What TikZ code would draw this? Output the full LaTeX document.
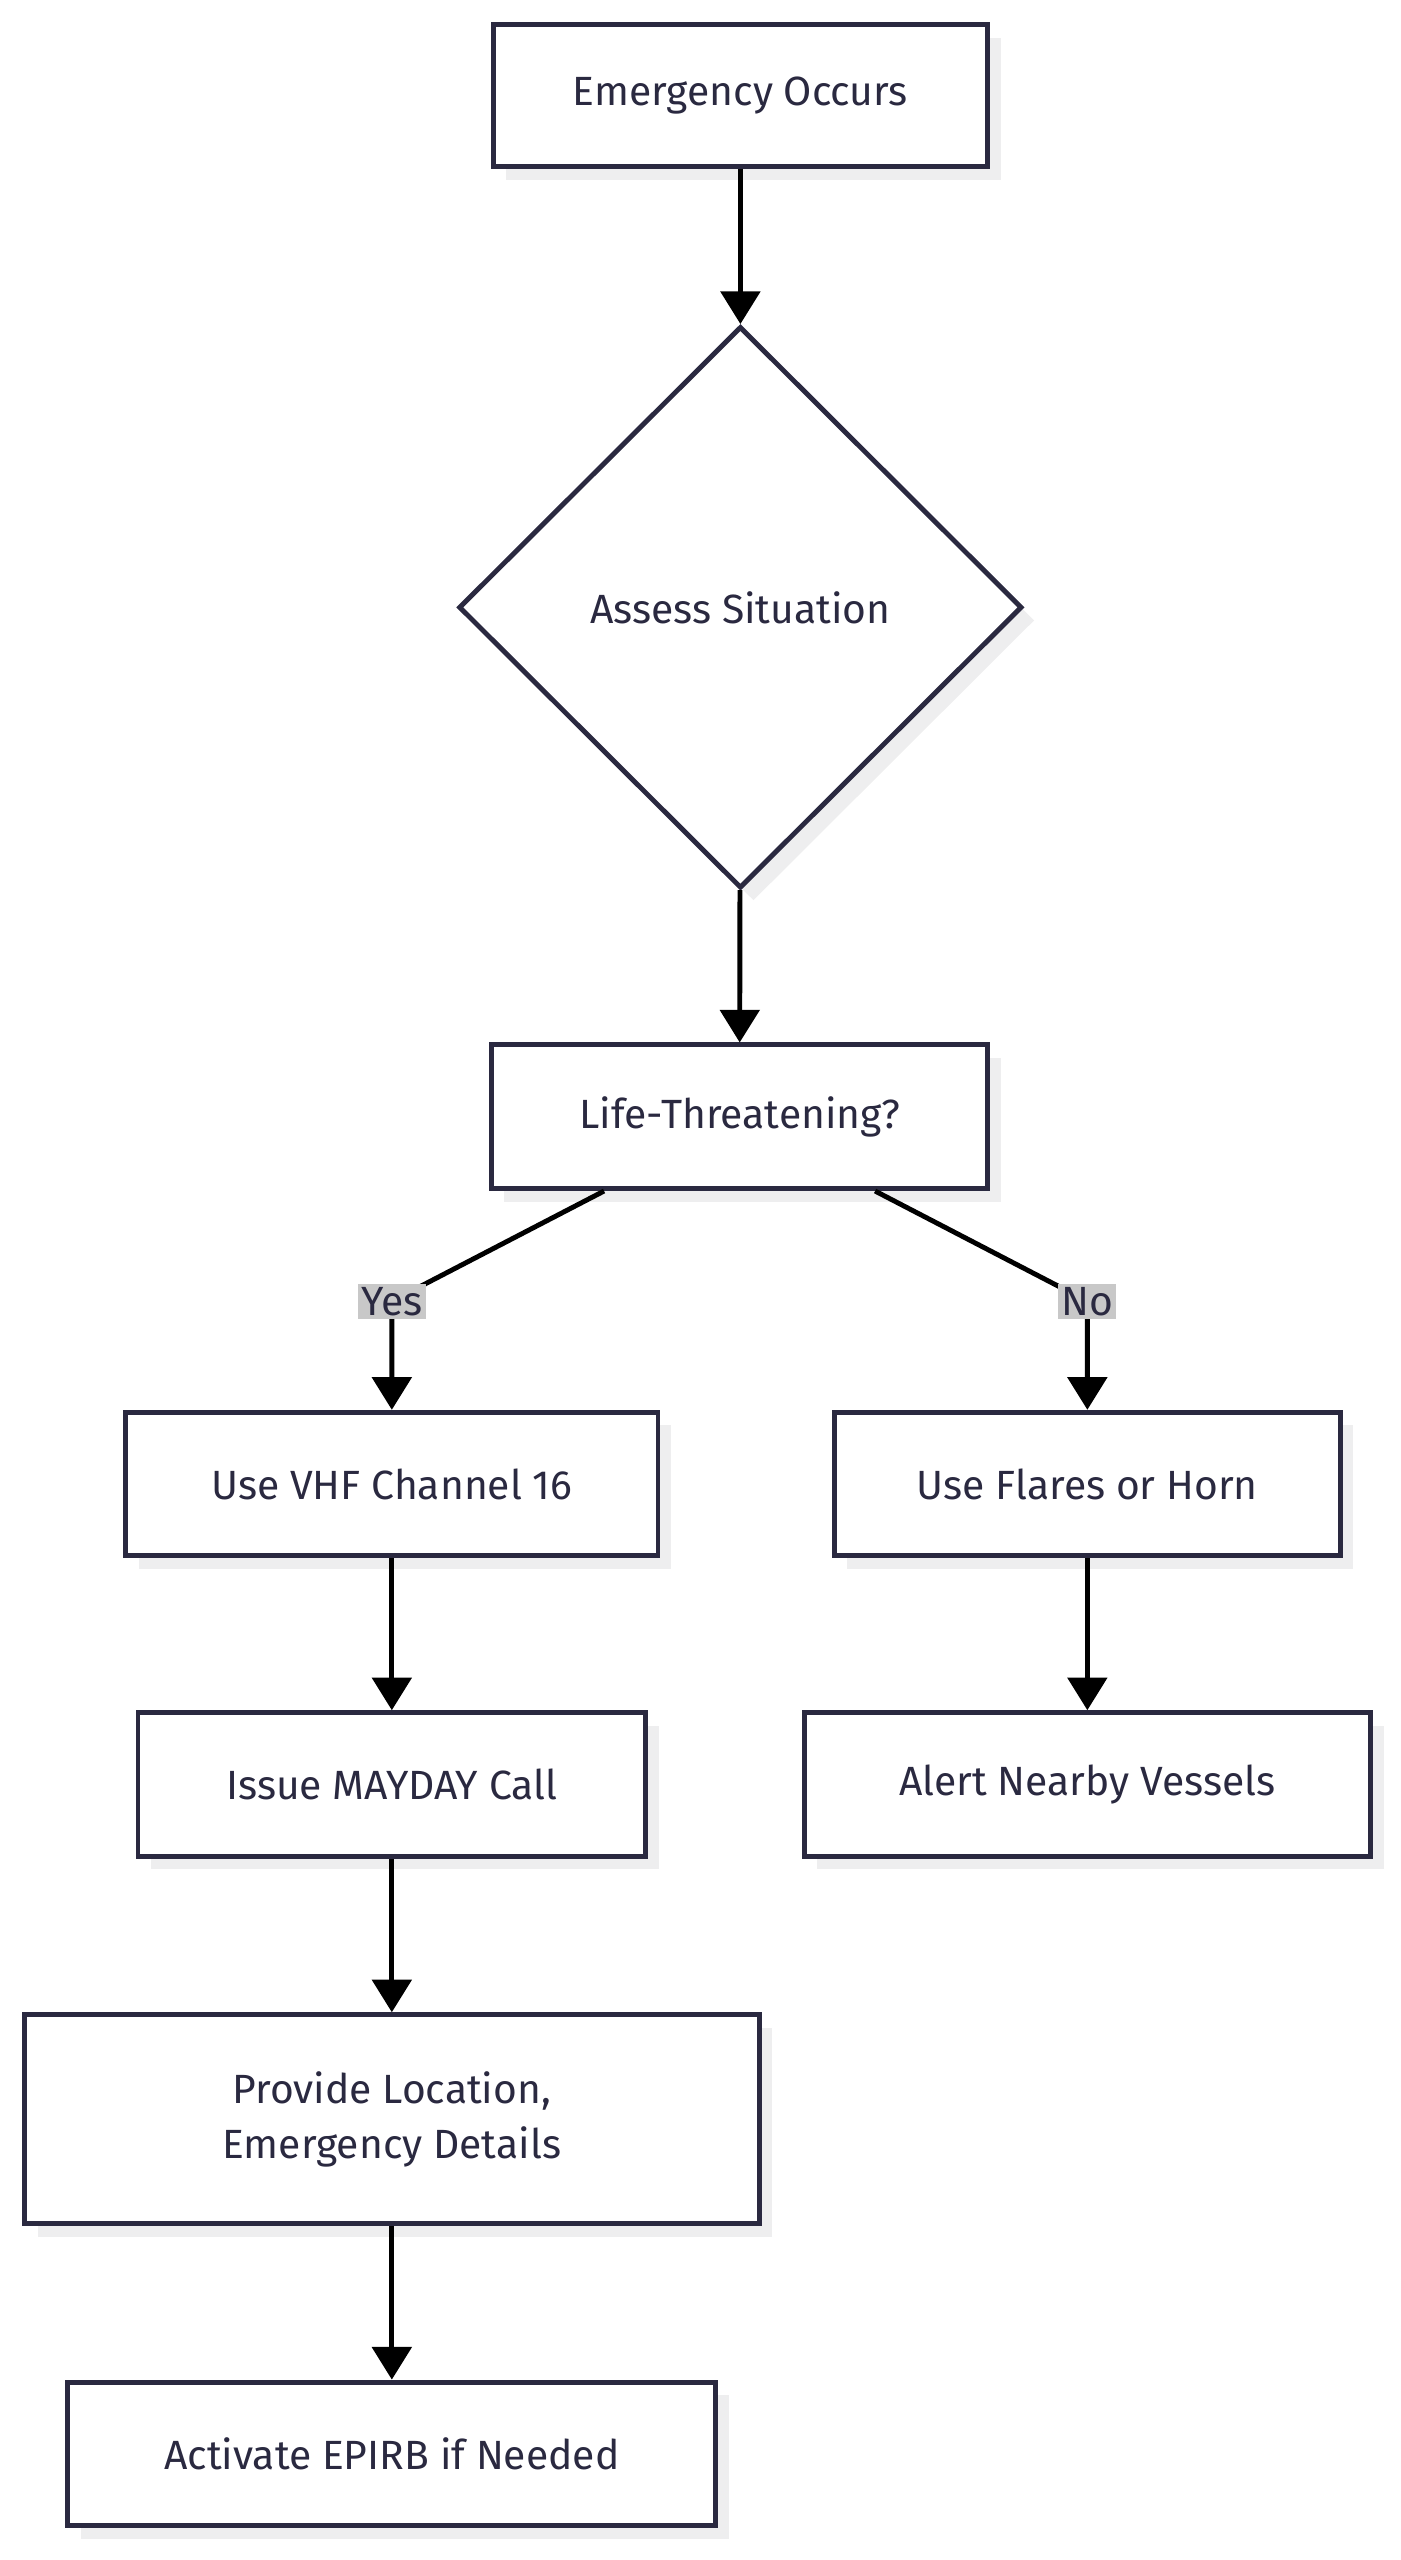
\documentclass[tikz,border=0pt]{standalone}
\usepackage{fontspec}
\setmainfont{Fira Sans}
\usetikzlibrary{shapes.geometric,shadows,arrows.meta}
\definecolor{ink}{HTML}{2A2940}
\definecolor{shade}{HTML}{EEEEEF}
\definecolor{tag}{HTML}{C8C8C8}
\tikzset{
  box/.style={draw=ink,line width=3pt,fill=white,text=ink,font=\fontsize{25}{34}\selectfont,
    align=center,inner sep=0pt,
    drop shadow={shadow xshift=8pt,shadow yshift=-8pt,fill=shade,opacity=1}},
  flow/.style={line width=3pt,-{Triangle[length=20pt,width=24pt]}},
  tag/.style={fill=tag,text=ink,font=\fontsize{25}{30}\selectfont,inner sep=2pt}
}
\begin{document}
\begin{tikzpicture}[x=1pt,y=-1pt]
\useasboundingbox (0,0) rectangle (858,1568);
\node[box,minimum width=303pt,minimum height=87pt] (occurs) at (453.5,58.5) {Emergency Occurs};
\node[box,diamond,aspect=1,minimum width=345pt,minimum height=344pt] (assess) at (453.5,372) {Assess Situation};
\node[box,minimum width=304pt,minimum height=88pt] (life) at (453,684) {Life-Threatening?};
\node[box,minimum width=326pt,minimum height=88pt] (vhf) at (240,909) {Use VHF Channel 16};
\node[box,minimum width=310pt,minimum height=88pt] (flares) at (666,909) {Use Flares or Horn};
\node[box,minimum width=311pt,minimum height=88pt] (mayday) at (240,1093) {Issue MAYDAY Call};
\node[box,minimum width=347pt,minimum height=88pt] (alert) at (666,1093) {Alert Nearby Vessels};
\node[box,minimum width=450pt,minimum height=128pt] (location) at (240,1298) {Provide Location,\\Emergency Details};
\node[box,minimum width=397pt,minimum height=88pt] (epirb) at (240,1503) {Activate EPIRB if Needed};

\draw[flow] (occurs) -- (assess);
\draw[flow] (assess) -- (life);
\coordinate (yesbend) at (240,797);
\coordinate (nobend) at (666,797);
\draw[flow] (life.south) ++(-83pt,0) -- (yesbend) -- (vhf);
\draw[flow] (life.south) ++(83pt,0) -- (nobend) -- (flares);
\node[tag] (yes) at (yesbend) {Yes};
\node[tag] (no) at (nobend) {No};
\draw[flow] (vhf) -- (mayday);
\draw[flow] (mayday) -- (location);
\draw[flow] (location) -- (epirb);
\draw[flow] (flares) -- (alert);
\end{tikzpicture}
\end{document}
